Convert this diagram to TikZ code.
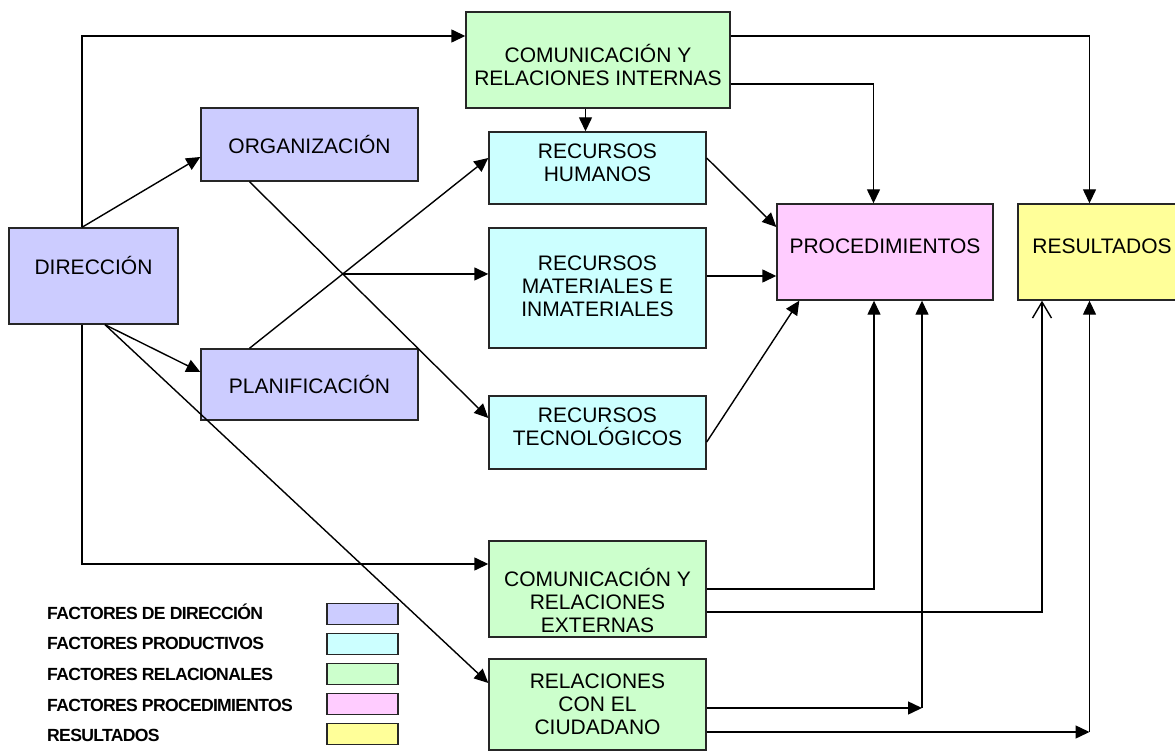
\documentclass[tikz,border=0pt]{standalone}
\usepackage{fontspec}
\setmainfont{Liberation Sans}
\newfontfamily\legfont[LetterSpace=-4]{Liberation Sans}
\usetikzlibrary{arrows.meta}
\definecolor{dircol}{RGB}{204, 204, 255}
\definecolor{prodcol}{RGB}{204, 255, 255}
\definecolor{relcol}{RGB}{204, 255, 204}
\definecolor{proccol}{RGB}{255, 204, 255}
\definecolor{rescol}{RGB}{255, 255, 153}
\tikzstyle{box} = [rectangle, draw=black!85, line width=1.4pt, inner sep=0pt]
\tikzstyle{boxtext} = [draw=none, fill=none, align=center, inner sep=0pt, font=\fontsize{21}{23}\selectfont]
\tikzstyle{legtext} = [draw=none, fill=none, anchor=west, inner sep=0pt, text height=12.5pt, text depth=0pt, font=\legfont\bfseries\fontsize{17.6}{19}\selectfont]
\tikzstyle{tedge}  = [draw, line width=1.4pt, -{Triangle[length=14pt,width=13pt]}]
\tikzstyle{oedge}  = [draw, line width=1.4pt, -{Straight Barb[length=16pt,width=19pt]}]

\begin{document}
\begin{tikzpicture}[x=1pt, y=-1pt]
\useasboundingbox (0,0) rectangle (1175,751);

% boxes =============================

% direction factors
\node[box, fill=dircol, minimum width=169pt, minimum height=96pt] (dir) at (93.5,276) {};
\node[boxtext] (dirt) at ([yshift=11pt]dir.center) {DIRECCIÓN};
\node[box, fill=dircol, minimum width=217pt, minimum height=73pt] (org) at (309.5,144.5) {};
\node[boxtext] (orgt) at (org.center) {ORGANIZACIÓN};
\node[box, fill=dircol, minimum width=217pt, minimum height=71pt] (plan) at (309.5,384.5) {};
\node[boxtext] (plant) at (plan.center) {PLANIFICACIÓN};

% productive factors
\node[box, fill=prodcol, minimum width=217pt, minimum height=72pt] (rhum) at (597.5,168) {};
\node[boxtext] (rhumt) at ([yshift=5.5pt]rhum.center) {RECURSOS\\HUMANOS};
\node[box, fill=prodcol, minimum width=217pt, minimum height=120pt] (rmat) at (597.5,288) {};
\node[boxtext] (rmatt) at ([yshift=2pt]rmat.center) {RECURSOS\\MATERIALES E\\INMATERIALES};
\node[box, fill=prodcol, minimum width=217pt, minimum height=73pt] (rtec) at (597.5,432.5) {};
\node[boxtext] (rtect) at ([yshift=6pt]rtec.center) {RECURSOS\\TECNOLÓGICOS};

% relational factors
\node[box, fill=relcol, minimum width=264pt, minimum height=96pt] (cint) at (598,60) {};
\node[boxtext] (cintt) at ([yshift=-5pt]cint.center) {COMUNICACIÓN Y\\RELACIONES INTERNAS};
\node[box, fill=relcol, minimum width=217pt, minimum height=96pt] (cext) at (597.5,589) {};
\node[boxtext] (cextt) at ([yshift=-11pt]cext.center) {COMUNICACIÓN Y\\RELACIONES\\EXTERNAS};
\node[box, fill=relcol, minimum width=217pt, minimum height=91pt] (rciu) at (597.5,704.5) {};
\node[boxtext] (rciut) at (rciu.center) {RELACIONES\\CON EL\\CIUDADANO};

% procedures and results
\node[box, fill=proccol, minimum width=216pt, minimum height=96pt] (proc) at (885,252) {};
\node[boxtext] (proct) at ([yshift=6pt]proc.center) {PROCEDIMIENTOS};
\node[box, fill=rescol, minimum width=168pt, minimum height=96pt] (res) at (1102,252) {};
\node[boxtext] (rest) at ([yshift=6pt]res.center) {RESULTADOS};

% legend
\foreach \lab/\col [count=\i from 0] in {FACTORES DE DIRECCIÓN/dircol, FACTORES PRODUCTIVOS/prodcol, FACTORES RELACIONALES/relcol, FACTORES PROCEDIMIENTOS/proccol, RESULTADOS/rescol} {
  \node[legtext] (leg\i) at (47,613+30.6*\i) {\lab};
  \node[box, fill=\col, minimum width=71pt, minimum height=21pt] (sw\i) at (362.5,614+30*\i) {};
}

% helper points
\coordinate (orgs) at ([xshift=-60pt]org.south);
\coordinate (rtecw) at ([yshift=14.5pt]rtec.west);
\coordinate (plann) at ([xshift=-60pt]plan.north);
\coordinate (rhumw) at ([yshift=10pt]rhum.west);
\coordinate (cross) at (intersection of orgs--rtecw and plann--rhumw);
\coordinate (rhumn) at ([xshift=-12pt]rhum.north);
\coordinate (rmate) at ([yshift=12pt]rmat.east);
\coordinate (rciua) at ([yshift=-3.5pt]rciu.east);
\coordinate (rciub) at ([yshift=-27.5pt]rciu.east);
\coordinate (procx) at ([xshift=37pt]proc.south);
\coordinate (resx) at ([xshift=-12.5pt]res.south);

% edges from direction
\path[tedge] ([xshift=-11.5pt]dir.north) |- ([yshift=24pt]cint.west);
\path[tedge] ([xshift=-11.5pt]dir.north) -- ([yshift=-12.5pt]org.west);
\path[tedge] ([xshift=11.5pt]dir.south) -- ([yshift=12.5pt]plan.west);
\path[tedge] ([xshift=11.5pt]dir.south) -- ([yshift=21.5pt]rciu.west);
\path[tedge] ([xshift=-11.5pt]dir.south) |- ([yshift=25pt]cext.west);

% edges to productive factors
\path[tedge] (orgs) -- (rtecw);
\path[tedge] (plann) -- (rhumw);
\path[tedge] (cross) -- (cross -| rmat.west);
\path[tedge] (rhumn |- cint.south) -- (rhumn);

% edges to procedures
\path[tedge] ([yshift=-24pt]cint.east) -| ([xshift=-11.5pt]proc.north);
\path[tedge] ([yshift=10pt]rhum.east) -- ([yshift=25pt]proc.west);
\path[tedge] (rmate) -- (rmate -| proc.west);
\path[tedge] ([yshift=-9.5pt]rtec.east) -- ([xshift=23pt]proc.south west);
\path[tedge] (cext.east) -| ([xshift=-11pt]proc.south);
\path[tedge] (rciua) -- (rciua -| procx);
\path[tedge] (rciua -| procx) -- (procx);

% edges to results
\path[tedge] ([yshift=24pt]cint.east) -| ([xshift=-12.5pt]res.north);
\path[oedge] ([yshift=-23pt]cext.east) -| ([xshift=-60pt]res.south);
\path[tedge] (rciub) -- (rciub -| resx);
\path[tedge] (rciub -| resx) -- (resx);

\end{tikzpicture}
\end{document}
